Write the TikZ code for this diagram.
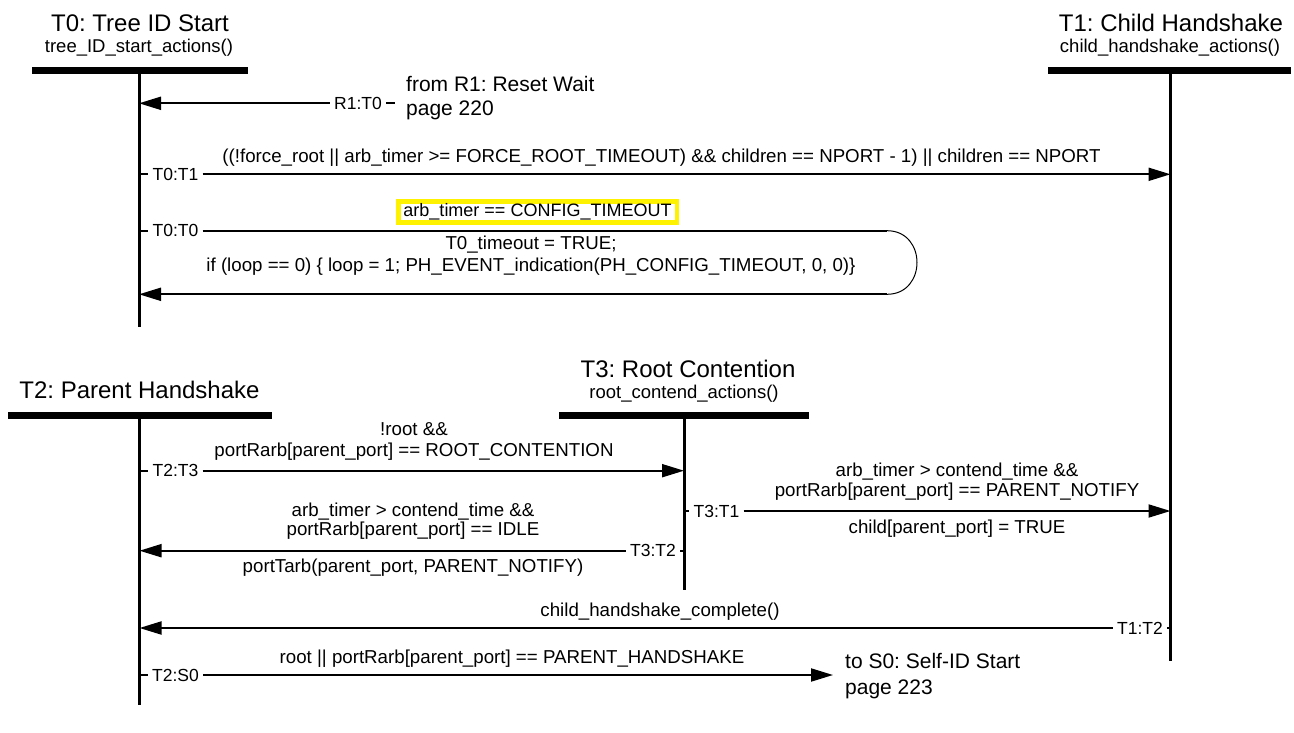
\documentclass[tikz,border=0pt]{standalone}
\usepackage{fontspec}
\setmainfont{Liberation Sans}
\usetikzlibrary{arrows.meta, positioning, calc}
\frenchspacing

\begin{document}
\begin{tikzpicture}[
  x=1pt, y=-1pt,
  stbar/.style={line width=7pt},
  lifeline/.style={line width=3pt},
  trans/.style={line width=2pt, -{Triangle[length=22pt, width=13pt]}},
  tickline/.style={line width=2pt},
  sttitle/.style={font=\fontsize{24}{28}\selectfont, anchor=base, inner sep=0pt},
  stact/.style={font=\fontsize{18.5}{22}\selectfont, anchor=base, inner sep=0pt},
  tid/.style={font=\fontsize{17.5}{20}\selectfont, inner sep=4pt},
  cond/.style={font=\fontsize{18.7}{22}\selectfont, anchor=base, inner sep=0pt},
  pgref/.style={font=\fontsize{21}{24}\selectfont, anchor=base west, inner sep=0pt}
]
  \useasboundingbox (0,0) rectangle (1294,733);

  \coordinate (t0top) at (139,70.5);
  \coordinate (t0bot) at (139,326.5);
  \coordinate (t1top) at (1170.5,70.5);
  \coordinate (t1bot) at (1170.5,661);
  \coordinate (t2top) at (139.5,415.3);
  \coordinate (t2bot) at (139.5,705);
  \coordinate (t3top) at (684,415.3);
  \coordinate (t3bot) at (684,590);

  \draw[lifeline] (t0top) -- (t0bot);
  \draw[lifeline] (t1top) -- (t1bot);
  \draw[lifeline] (t2top) -- (t2bot);
  \draw[lifeline] (t3top) -- (t3bot);

  \draw[stbar] ($(t0top)+(-107,0)$) -- ($(t0top)+(109,0)$);
  \draw[stbar] ($(t1top)+(-122.5,0)$) -- ($(t1top)+(120.5,0)$);
  \draw[stbar] ($(t2top)+(-131.5,0)$) -- ($(t2top)+(132.5,0)$);
  \draw[stbar] ($(t3top)+(-125,0)$) -- ($(t3top)+(125,0)$);

  \node[sttitle] (t0name) at (140,32) {T0: Tree ID Start};
  \node[stact] (t0act) at (139,53) {tree\_ID\_start\_actions()};
  \node[sttitle] (t1name) at (1171,32) {T1: Child Handshake};
  \node[stact] (t1act) at (1170,53) {child\_handshake\_actions()};
  \node[sttitle] (t2name) at (139.5,398) {T2: Parent Handshake};
  \node[sttitle] (t3name) at (688,377) {T3: Root Contention};
  \node[stact] (t3act) at (684,398) {root\_contend\_actions()};

  % R1:T0
  \node[tid] (r1t0) at (358,103.3) {R1:T0};
  \coordinate (r1in) at (395,103.3);
  \draw[tickline] (r1t0.east) -- (r1in);
  \draw[trans] (r1t0.west) -- (t0top |- r1t0);
  \node[pgref] (r1ref) at (406,92) {from R1: Reset Wait};
  \node[pgref] (r1page) at (406,115.5) {page 220};

  % T0:T1
  \node[tid] (t0t1) at (175.5,174.3) {T0:T1};
  \draw[tickline] (t0top |- t0t1) -- (t0t1.west);
  \draw[trans] (t0t1.east) -- (t1top |- t0t1);
  \node[cond] (t0t1c) at (661.5,162.5) {((!force\_root || arb\_timer >= FORCE\_ROOT\_TIMEOUT) \&\& children == NPORT - 1) || children == NPORT};

  % T0:T0
  \node[tid] (t0t0) at (175.5,230.7) {T0:T0};
  \coordinate (lpa) at (887,230.7);
  \coordinate (lpb) at (887,294.3);
  \draw[tickline] (t0top |- t0t0) -- (t0t0.west);
  \draw[tickline] (t0t0.east) -- (lpa);
  \draw[line width=1pt] (lpa) .. controls (927,230.7) and (927,294.3) .. (lpb);
  \draw[trans] (lpb) -- (t0top |- lpb);
  \node[draw=yellow, line width=4.5pt, minimum width=278.5pt, minimum height=21pt, inner sep=0pt,
    font=\fontsize{18}{22}\selectfont] (cfgto) at (537.5,211.8) {arb\_timer == CONFIG\_TIMEOUT};
  \node[cond] (t0t0a) at (531,249) {T0\_timeout = TRUE;};
  \node[cond] (t0t0b) at (531,271) {if (loop == 0) \{ loop = 1; PH\_EVENT\_indication(PH\_CONFIG\_TIMEOUT, 0, 0)\}};

  % T2:T3
  \node[tid] (t2t3) at (175.5,470.7) {T2:T3};
  \draw[tickline] (t2top |- t2t3) -- (t2t3.west);
  \draw[trans] (t2t3.east) -- (t3top |- t2t3);
  \node[cond] (t2t3a) at (414,435.5) {!root \&\&};
  \node[cond] (t2t3b) at (414,456) {portRarb[parent\_port] == ROOT\_CONTENTION};

  % T3:T1
  \node[tid] (t3t1) at (716.5,511) {T3:T1};
  \draw[tickline] (t3top |- t3t1) -- (t3t1.west);
  \draw[trans] (t3t1.east) -- (t1top |- t3t1);
  \node[cond] (t3t1a) at (957,476) {arb\_timer > contend\_time \&\&};
  \node[cond] (t3t1b) at (957,496) {portRarb[parent\_port] == PARENT\_NOTIFY};
  \node[cond] (t3t1c) at (957,533) {child[parent\_port] = TRUE};

  % T3:T2
  \node[tid] (t3t2) at (653,550.7) {T3:T2};
  \draw[tickline] (t3t2.east) -- (t3top |- t3t2);
  \draw[trans] (t3t2.west) -- (t2top |- t3t2);
  \node[cond] (t3t2a) at (413,516) {arb\_timer > contend\_time \&\&};
  \node[cond] (t3t2b) at (413,535.5) {portRarb[parent\_port] == IDLE};
  \node[cond] (t3t2c) at (413,572) {portTarb(parent\_port, PARENT\_NOTIFY)};

  % T1:T2
  \node[tid] (t1t2) at (1140,628) {T1:T2};
  \draw[tickline] (t1t2.east) -- (t1top |- t1t2);
  \draw[trans] (t1t2.west) -- (t2top |- t1t2);
  \node[cond] (t1t2a) at (660,616) {child\_handshake\_complete()};

  % T2:S0
  \node[tid] (t2s0) at (175.5,675) {T2:S0};
  \coordinate (s0in) at (833,675);
  \draw[tickline] (t2top |- t2s0) -- (t2s0.west);
  \draw[trans] (t2s0.east) -- (s0in);
  \node[cond] (t2s0a) at (512,663) {root || portRarb[parent\_port] == PARENT\_HANDSHAKE};
  \node[pgref] (s0ref) at (845,668) {to S0: Self-ID Start};
  \node[pgref] (s0page) at (845,694) {page 223};
\end{tikzpicture}
\end{document}
